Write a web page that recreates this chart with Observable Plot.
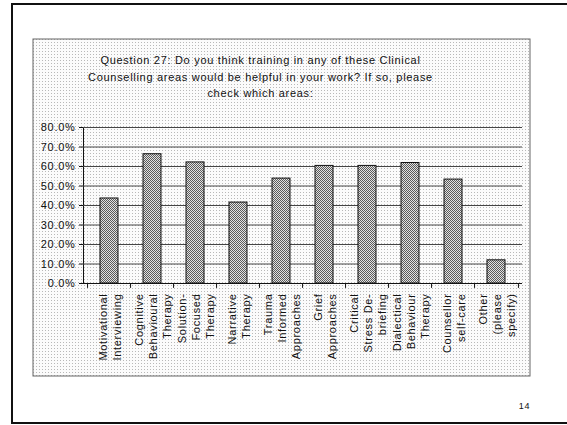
<!DOCTYPE html>
<html><head><meta charset="utf-8">
<script src="https://cdn.jsdelivr.net/npm/d3@7"></script>
<script src="https://cdn.jsdelivr.net/npm/@observablehq/plot@0.6"></script>
<style>body{margin:0;background:#fff}#chart{position:relative;width:567px;height:425px}</style>
</head><body><div id="chart"></div>
<script>
const categories = ["Motivational Interviewing","Cognitive Behavioural Therapy","Solution-Focused Therapy","Narrative Therapy","Trauma Informed Approaches","Grief Approaches","Critical Stress De-briefing","Dialectical Behaviour Therapy","Counsellor self-care","Other (please specify)"];
const labelLines = ["Motivational\nInterviewing","Cognitive\nBehavioural\nTherapy","Solution-\nFocused\nTherapy","Narrative\nTherapy","Trauma\nInformed\nApproaches","Grief\nApproaches","Critical\nStress De-\nbriefing","Dialectical\nBehaviour\nTherapy","Counsellor\nself-care","Other\n(please\nspecify)"];
const values = [43.6, 66.3, 62.1, 41.5, 53.8, 60.3, 60.3, 61.8, 53.3, 11.9];
const yTicks = [0, 10, 20, 30, 40, 50, 60, 70, 80];
const titleLines = ["Question 27: Do you think training in any of these Clinical","Counselling areas would be helpful in your work? If so, please","check which areas:"];
const pageNumber = "14";

const W = 567, H = 425, mL = 83, mR = 45, mT = 127, mB = 142;
const step = (W - mL - mR) / categories.length;
const data = categories.map((c, i) => ({category: c, value: values[i], label: labelLines[i]}));

const svg = Plot.plot({
  width: W, height: H,
  marginLeft: mL, marginRight: mR, marginTop: mT, marginBottom: mB,
  style: {fontFamily: "'Liberation Sans', Arial, sans-serif", fontSize: "11px", letterSpacing: "0.7px", color: "#111", background: "none"},
  x: {domain: categories, axis: null, paddingInner: 0.57, paddingOuter: 0.285},
  y: {domain: [0, 80], ticks: yTicks, tickFormat: d => d.toFixed(1) + "%", tickSize: 4, tickPadding: 4, label: null, line: true},
  marks: [
    Plot.ruleY(yTicks.slice(1), {stroke: "#444", strokeWidth: 1}),
    Plot.barY(data, {x: "category", y: "value", fill: "url(#barPat)", stroke: "#111", strokeWidth: 1}),
    Plot.ruleY([0], {stroke: "#111"}),
    Plot.ruleX(categories, {x: d => d, y1: 0, y2: -2.5, dx: -step / 2, stroke: "#111"}),
    Plot.ruleX(categories.slice(-1), {x: d => d, y1: 0, y2: -2.5, dx: step / 2, stroke: "#111"}),
    Plot.text(data, {x: "category", text: "label", frameAnchor: "bottom", dy: 10, rotate: -90, textAnchor: "end", lineAnchor: "middle", lineHeight: 1.27, fontSize: 11, fill: "#111"}),
    Plot.text([titleLines.join("\n")], {frameAnchor: "top", dx: -42.5, dy: -52, lineAnchor: "middle", lineHeight: 1.5, fontSize: 11, fill: "#111", letterSpacing: "0.5px"}),
    Plot.text([pageNumber], {frameAnchor: "bottom-right", dx: 2, dy: 125, textAnchor: "middle", fontSize: 9, fill: "#111"})
  ]
});

const s = d3.select(svg);
const defs = s.insert("defs", ":first-child");
const bp = defs.append("pattern").attr("id", "barPat").attr("patternUnits", "userSpaceOnUse").attr("width", 2).attr("height", 2);
bp.append("rect").attr("width", 2).attr("height", 2).attr("fill", "#e2e2e2");
bp.append("rect").attr("width", 1).attr("height", 1).attr("fill", "#5a5a5a");
bp.append("rect").attr("x", 1).attr("y", 1).attr("width", 1).attr("height", 1).attr("fill", "#5a5a5a");
const bg = defs.append("pattern").attr("id", "bgPat").attr("patternUnits", "userSpaceOnUse").attr("width", 3).attr("height", 3);
bg.append("rect").attr("width", 3).attr("height", 3).attr("fill", "#fbfbfb");
bg.append("rect").attr("width", 1).attr("height", 1).attr("fill", "#b8b8b8");
const back = s.insert("g", "defs + *");
back.append("rect").attr("x", 33).attr("y", 39).attr("width", 497).attr("height", 337).attr("fill", "url(#bgPat)").attr("stroke", "#666");
back.append("path").attr("d", "M567,4H12V423H567").attr("fill", "none").attr("stroke", "#111").attr("stroke-width", 2);
document.getElementById("chart").appendChild(svg);
</script></body></html>
